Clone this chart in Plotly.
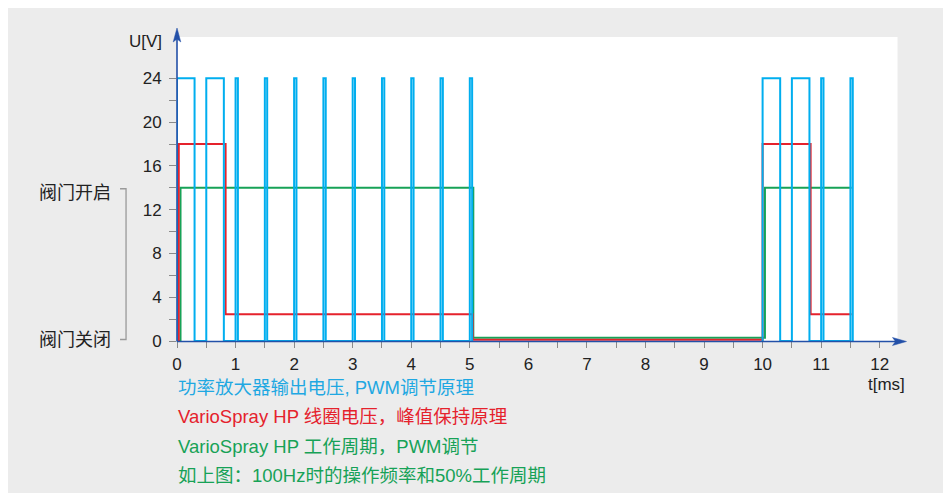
import plotly.graph_objects as go

# ---------------- data ----------------
# Power amplifier output (PWM): pulse start / end times [ms], pulse height [V]
blue_pulse_start = [0.0, 0.5, 1.0, 1.5, 2.0, 2.5, 3.0, 3.5, 4.0, 4.5, 5.0, 10.0, 10.5, 11.0, 11.5]
blue_pulse_end = [0.3, 0.8, 1.04, 1.54, 2.04, 2.54, 3.04, 3.54, 4.04, 4.54, 5.04, 10.3, 10.8, 11.04, 11.54]
blue_pulse_high = 24

# Coil voltage (peak & hold) as step values
red_times = [0.0, 0.03, 0.83, 5.05, 10.0, 10.82, 11.52]
red_levels = [0.0, 18.0, 2.45, 0.12, 18.0, 2.45, 2.45]

# Duty cycle (valve open/closed) as step values
green_times = [0.0, 0.06, 5.06, 10.04, 11.52]
green_levels = [0.0, 14.0, 0.3, 14.0, 14.0]

x_tick_values = [i * 0.5 for i in range(25)]
x_tick_labels = [str(int(v)) if v == int(v) else "" for v in x_tick_values]
y_tick_values = list(range(0, 26, 2))
y_tick_labels = [str(v) if v % 4 == 0 else "" for v in y_tick_values]

legend_lines = [
    "功率放大器输出电压, PWM调节原理",
    "VarioSpray HP 线圈电压，峰值保持原理",
    "VarioSpray HP 工作周期，PWM调节",
    "如上图：100Hz时的操作频率和50%工作周期",
]
valve_labels = ["阀门开启", "阀门关闭"]

# ---------------- colours / layout ----------------
C_BLUE = "#00aeef"
C_RED = "#e5222c"
C_GREEN = "#17a257"
C_AXIS = "#2350a8"
C_TICK = "#8a8a8a"
C_BG = "#ececec"
FONT = "Liberation Sans, Noto Sans CJK SC, sans-serif"

OFF = 8  # page body margin offset
W, H = 951, 493
L, R, T, B = 169, 49.5, 20, 159.5
XR = [0, 12.5]
YR = [0, 28.6]
pw, ph = W - L - R, H - T - B


def xp(px):
    return (px - OFF - L) / pw


def yp(py):
    return (H - B - (py - OFF)) / ph


# build blue pulse polyline
bx, by = [], []
for i, (s, e) in enumerate(zip(blue_pulse_start, blue_pulse_end)):
    if i > 0 and s - blue_pulse_end[i - 1] > 1.0:
        bx.append(None)
        by.append(None)
    bx += [s, s, e, e]
    by += [0, blue_pulse_high, blue_pulse_high, 0]

fig = go.Figure()
fig.add_trace(go.Scatter(x=green_times, y=green_levels, mode="lines", line=dict(color=C_GREEN, width=2, shape="hv"),
                         cliponaxis=False, hoverinfo="skip"))
fig.add_trace(go.Scatter(x=red_times, y=red_levels, mode="lines", line=dict(color=C_RED, width=2, shape="hv"),
                         cliponaxis=False, hoverinfo="skip"))
fig.add_trace(go.Scatter(x=bx, y=by, mode="lines", line=dict(color=C_BLUE, width=2),
                         cliponaxis=False, hoverinfo="skip", connectgaps=False))

shapes = [
    # white plotting panel
    dict(type="rect", xref="paper", yref="paper", x0=xp(177), x1=xp(898), y0=yp(341.5), y1=yp(37),
         fillcolor="white", line=dict(width=0), layer="below"),
    # axes
    dict(type="line", xref="paper", yref="paper", x0=xp(177), x1=xp(897), y0=yp(342), y1=yp(342),
         line=dict(color=C_AXIS, width=1.6)),
    dict(type="line", xref="paper", yref="paper", x0=xp(177), x1=xp(177), y0=yp(342), y1=yp(38),
         line=dict(color=C_AXIS, width=1.6)),
    # arrow heads
    dict(type="path", xref="paper", yref="paper",
         path=f"M{xp(907)},{yp(342)} L{xp(893)},{yp(346)} L{xp(896)},{yp(342)} L{xp(893)},{yp(338)} Z",
         fillcolor=C_AXIS, line=dict(color=C_AXIS, width=0.5)),
    dict(type="path", xref="paper", yref="paper",
         path=f"M{xp(177)},{yp(28)} L{xp(173.2)},{yp(42)} L{xp(177)},{yp(39)} L{xp(180.8)},{yp(42)} Z",
         fillcolor=C_AXIS, line=dict(color=C_AXIS, width=0.5)),
    # bracket for valve open/closed
    dict(type="path", xref="paper", yref="paper",
         path=f"M{xp(120)},{yp(189)} L{xp(126)},{yp(189)} L{xp(126)},{yp(340)} L{xp(120)},{yp(340)}",
         line=dict(color="#9a9a9a", width=1.3)),
]

annotations = [
    dict(text="U[V]", xref="paper", yref="paper", x=xp(164), y=yp(42), xanchor="right", yanchor="middle",
         showarrow=False, font=dict(family=FONT, size=17, color="#222")),
    dict(text="t[ms]", xref="paper", yref="paper", x=xp(866), y=yp(385), xanchor="left", yanchor="middle",
         showarrow=False, font=dict(family=FONT, size=17, color="#222")),
    dict(text=valve_labels[0], xref="paper", yref="paper", x=xp(113), y=yp(193), xanchor="right", yanchor="middle",
         showarrow=False, font=dict(family=FONT, size=18, color="#222")),
    dict(text=valve_labels[1], xref="paper", yref="paper", x=xp(113), y=yp(340), xanchor="right", yanchor="middle",
         showarrow=False, font=dict(family=FONT, size=18, color="#222")),
]
legend_colors = ["#1fa8e2", C_RED, C_GREEN, C_GREEN]
legend_y = [388, 417, 447, 476]
for txt, col, ly in zip(legend_lines, legend_colors, legend_y):
    annotations.append(dict(text=txt, xref="paper", yref="paper", x=xp(176), y=yp(ly), xanchor="left",
                            yanchor="middle", showarrow=False, font=dict(family=FONT, size=18.5, color=col)))

fig.update_layout(
    width=W, height=H,
    margin=dict(l=L, r=R, t=T, b=B, pad=0),
    paper_bgcolor=C_BG,
    plot_bgcolor="rgba(0,0,0,0)",
    showlegend=False,
    shapes=shapes,
    annotations=annotations,
    font=dict(family=FONT, size=17, color="#222"),
    xaxis=dict(range=XR, tickmode="array", tickvals=x_tick_values, ticktext=x_tick_labels,
               ticks="outside", ticklen=6, tickwidth=1.3, tickcolor=C_TICK, showgrid=False, zeroline=False,
               showline=False, tickfont=dict(family=FONT, size=17, color="#222"), fixedrange=True,
               ticklabelstandoff=2),
    yaxis=dict(range=YR, tickmode="array", tickvals=y_tick_values, ticktext=y_tick_labels,
               ticks="outside", ticklen=7, tickwidth=1.3, tickcolor=C_TICK, showgrid=False, zeroline=False,
               showline=False, tickfont=dict(family=FONT, size=17, color="#222"), fixedrange=True,
               ticklabelstandoff=4),
)

fig.write_html("out.html")
